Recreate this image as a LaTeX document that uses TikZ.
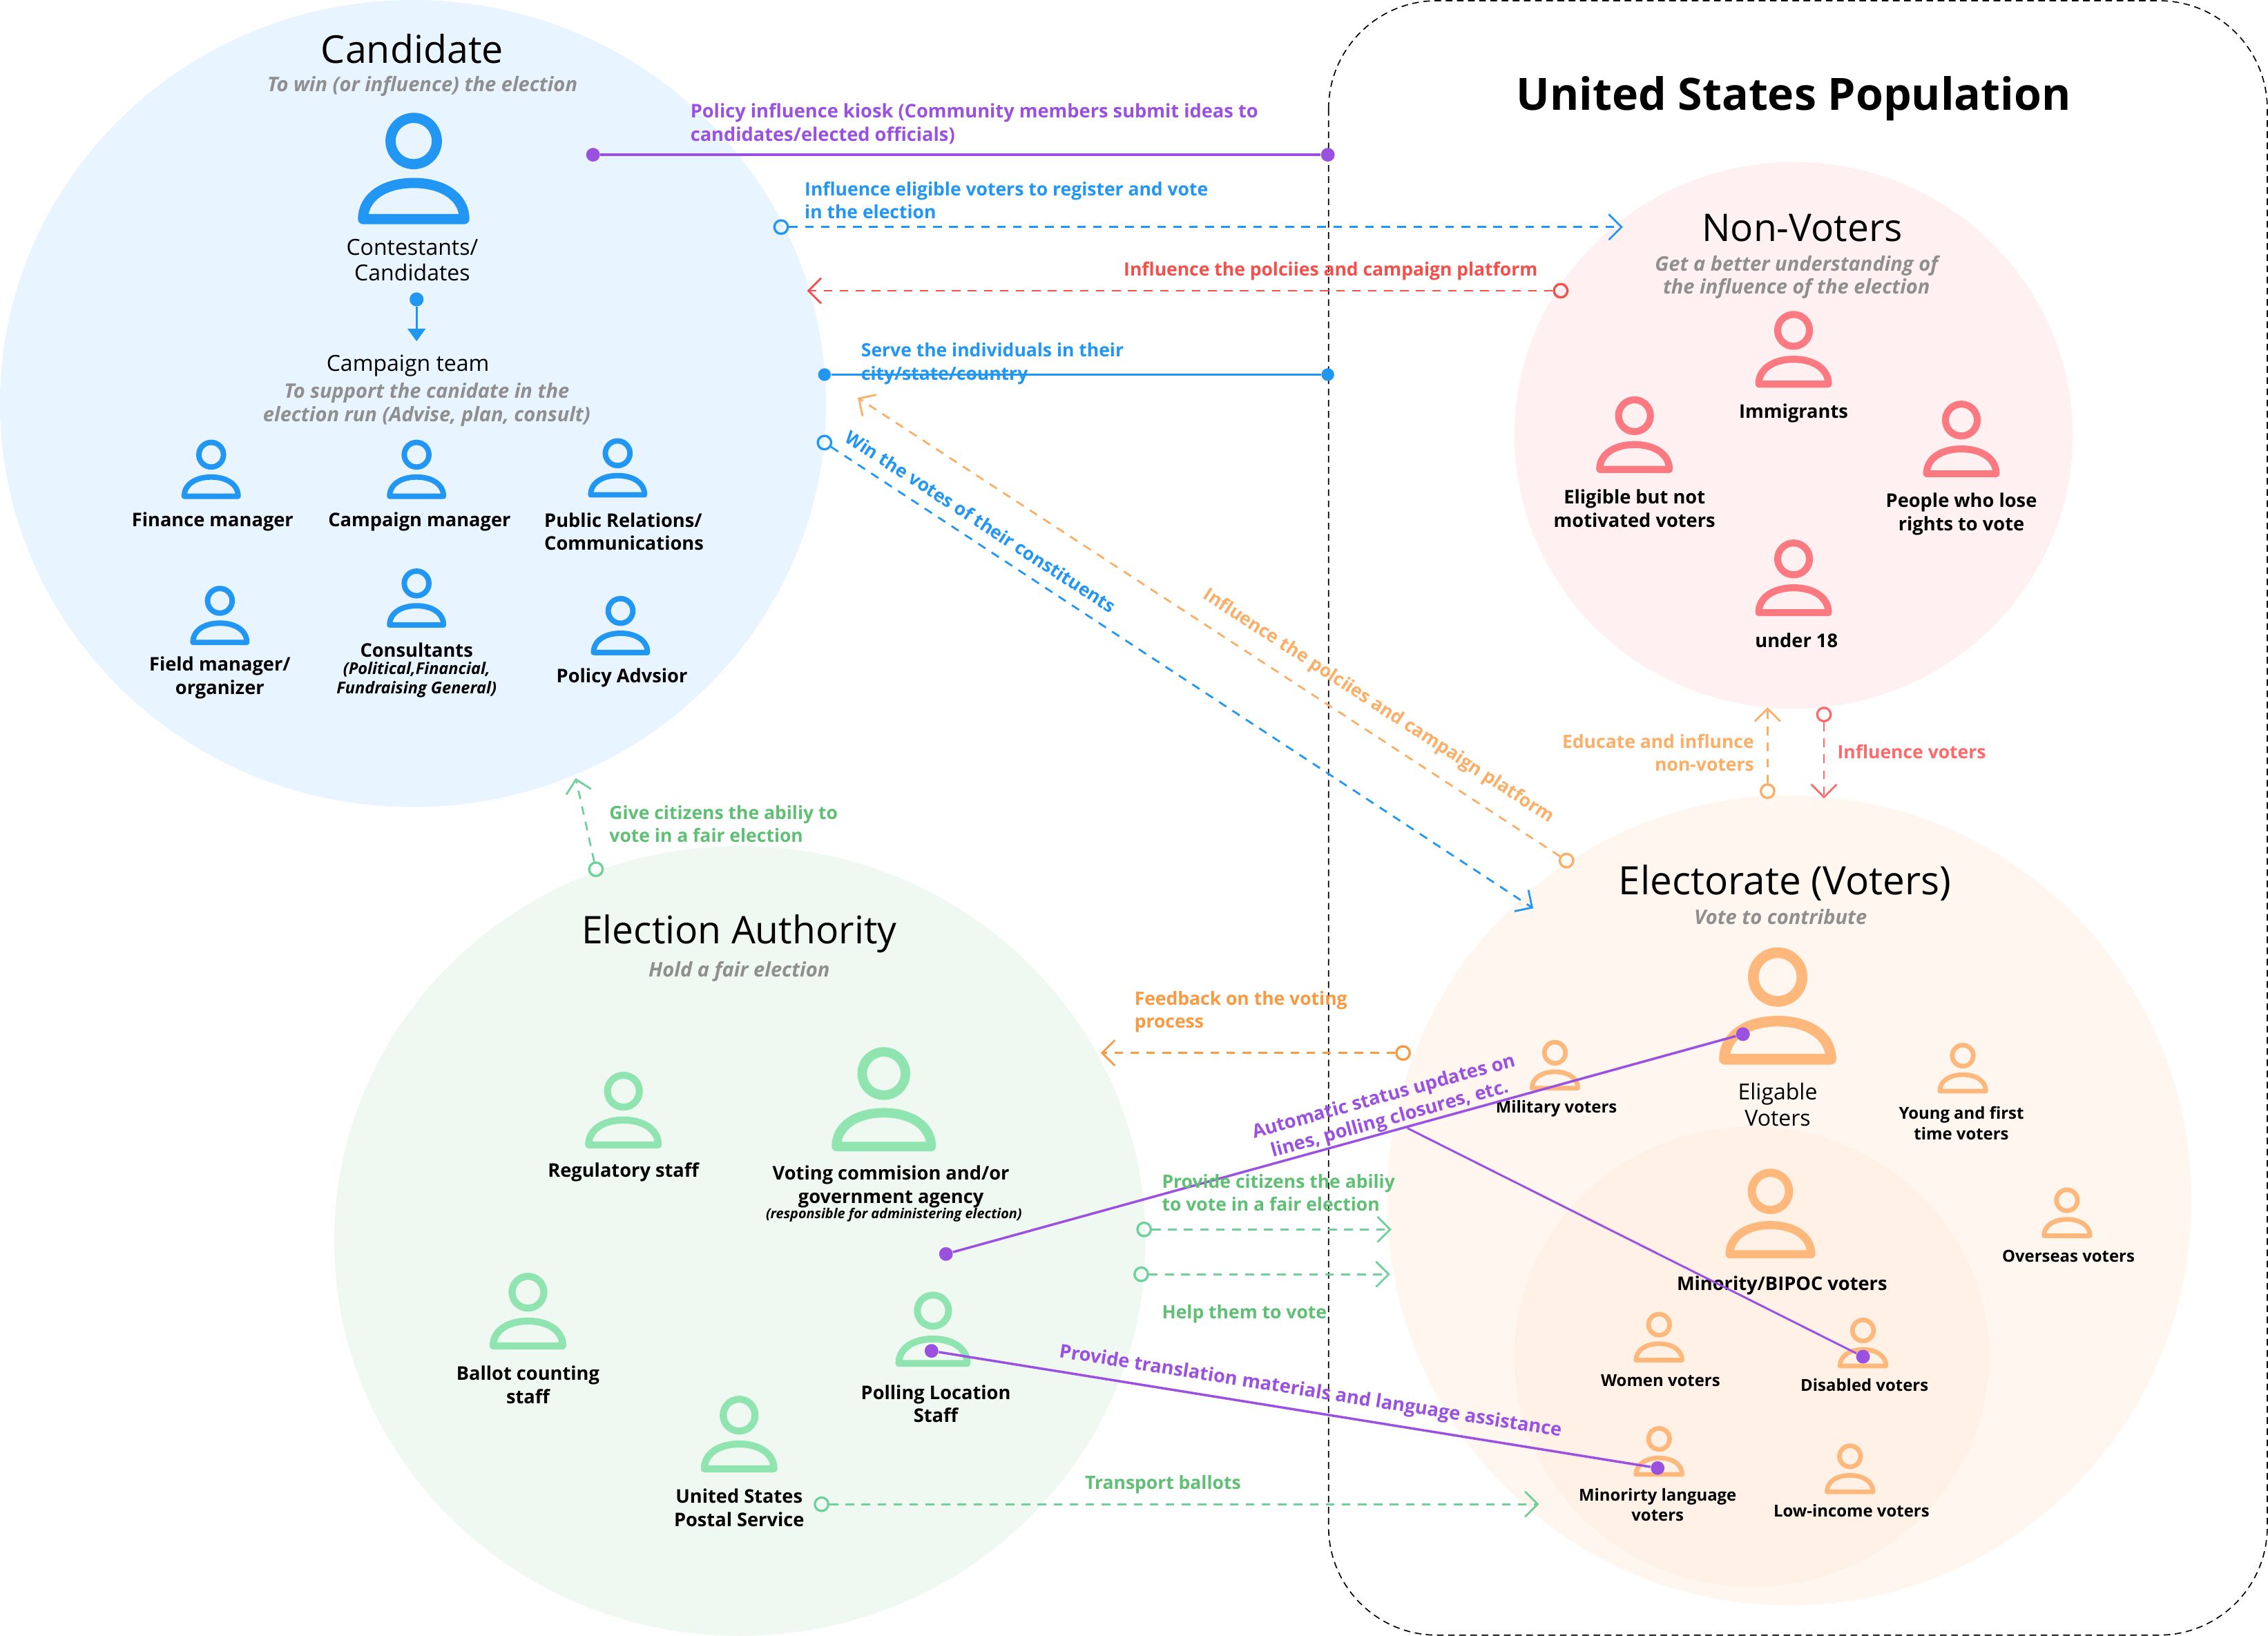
\documentclass[tikz,border=0pt]{standalone}
\usepackage{fontspec}
\setmainfont{Open Sans}
\usetikzlibrary{arrows.meta}
\definecolor{cblue}{HTML}{2196F3}
\definecolor{cbluebg}{HTML}{E8F4FF}
\definecolor{cgreen}{HTML}{90E4B0}
\definecolor{cgreentxt}{HTML}{5FBF74}
\definecolor{cgreenline}{HTML}{6FD09A}
\definecolor{cgreenbg}{HTML}{F0F8F2}
\definecolor{corange}{HTML}{FFB87C}
\definecolor{corangetxt}{HTML}{F79A42}
\definecolor{corangelt}{HTML}{FBAE66}
\definecolor{corangebg}{HTML}{FFF6F0}
\definecolor{corangein}{HTML}{FFF1E6}
\definecolor{cred}{HTML}{FB7A82}
\definecolor{credtxt}{HTML}{F4504B}
\definecolor{credlt}{HTML}{FB6B6B}
\definecolor{credbg}{HTML}{FFF1F1}
\definecolor{cpurple}{HTML}{9B51E0}
\definecolor{cgrey}{HTML}{8F8F8F}
\newcommand{\titlefont}{\fontsize{15}{17}\selectfont}
\newcommand{\subfont}{\fontsize{8.7}{10.2}\selectfont}
\newcommand{\lblfont}{\fontsize{7.4}{9.1}\selectfont\bfseries}
\newcommand{\linkfont}{\fontsize{7.2}{9.1}\selectfont\bfseries}
\newcommand{\smallfont}{\fontsize{6.5}{8}\selectfont\bfseries}
\newcommand{\tinyfont}{\fontsize{6.4}{7.4}\selectfont\bfseries\itshape}
\newcommand{\person}[4]{%
  \begin{scope}[shift={(#1,#2)}, scale=#3/77]
    \draw[#4, line width=#3/77*4pt, line join=round] (0,19.5) circle (16)
      (-35,73.5) .. controls (-35,58) and (-20,48.5) .. (0,48.5) .. controls (20,48.5) and (35,58) .. (35,73.5) -- cycle;
  \end{scope}}
\tikzset{
  lbl/.style={font=\lblfont, align=center, inner sep=0pt, yshift=-0.3pt},
  small/.style={lbl, font=\smallfont},
  head/.style={font=\titlefont, align=center, inner sep=0pt, yshift=-0.3pt},
  sublbl/.style={font=\subfont, align=center, inner sep=0pt, yshift=-0.4pt},
  goal/.style={font=\fontsize{7.9}{9.1}\selectfont\bfseries\itshape, text=cgrey, align=center, inner sep=0pt, yshift=-0.4pt},
  linklbl/.style={font=\linkfont, align=center, inner sep=0pt, yshift=-0.3pt},
  link/.style={linklbl, align=left, anchor=west},
  ring/.style={circle, draw, fill=none, line width=0.9pt, minimum size=5.3pt, inner sep=0pt},
  dot/.style={circle, fill, minimum size=5.4pt, inner sep=0pt},
  flow/.style={line width=0.75pt, dash pattern=on 3.4pt off 2.9pt, -{Straight Barb[length=5pt,width=10pt]}},
  solid link/.style={line width=0.95pt}
}
\begin{document}
\begin{tikzpicture}[x=0.02cm, y=-0.02cm]
  \useasboundingbox (0,0) rectangle (1568,1131);

  \fill[cbluebg] (285.5,279) ellipse (285.5 and 279);
  \fill[cgreenbg] (511.5,858) ellipse (280.5 and 273);
  \fill[credbg] (1240,301) ellipse (193 and 189);
  \fill[corangebg] (1237,830) ellipse (278 and 280);
  \fill[corangein] (1211,938) ellipse (164 and 159);
  \draw[line width=0.45pt, dash pattern=on 2.6pt off 1.8pt, rounded corners=1.5cm] (918.5,0.5) rectangle (1567.5,1130.5);

  \foreach \x/\y/\s in {286/78/77, 146/304/41, 288/304/41, 427/303/41, 152/405/41, 288/393/41, 429/412/41}
    \person{\x}{\y}{\s}{cblue};
  \foreach \x/\y/\s in {611/724/72, 431/741/53, 365/880/53, 645/893/52, 511/965/53}
    \person{\x}{\y}{\s}{cgreen};
  \foreach \x/\y/\s in {1240/215/53, 1130/274/53, 1356/277/53, 1240/373/53}
    \person{\x}{\y}{\s}{cred};
  \foreach \x/\y/\s in {1229/655/81, 1075/719/35, 1357/721/35, 1429/821/35, 1224/808/62, 1147/907/35, 1288/911/35, 1147/986/35, 1279/998/35}
    \person{\x}{\y}{\s}{corange};

  \node[head, font=\fontsize{15.1}{17}\selectfont] (candidate) at (285,33) {Candidate};
  \node[goal] (candidategoal) at (292,59) {To win (or influence) the election};
  \node[sublbl] (contestants) at (285,179) {Contestants/\\Candidates};
  \node[sublbl] (team) at (282,252) {Campaign team};
  \node[goal] (teamgoal) at (295,279) {To support the canidate in the\\election run (Advise, plan, consult)};
  \node[lbl] (finance) at (147,360) {Finance manager};
  \node[lbl] (campaign) at (290,360) {Campaign manager};
  \node[lbl, align=left, anchor=west] (public) at (376,367) {Public Relations/\\Communications};
  \node[lbl] (field) at (152,468) {Field manager/\\organizer};
  \node[lbl] (consultants) at (288,449) {Consultants};
  \node[font=\tinyfont, align=center, inner sep=0pt] (consultantkinds) at (288,470) {(Political,Financial,\\Fundraising General)};
  \node[lbl] (policy) at (430,468) {Policy Advsior};

  \node[font=\fontsize{17.5}{21}\selectfont\bfseries, inner sep=0pt] (population) at (1240,68) {United States Population};

  \node[head] (nonvoters) at (1246,157) {Non-Voters};
  \node[goal] (nonvotersgoal) at (1242,191) {Get a better understanding of\\the influence of the election};
  \node[lbl] (immigrants) at (1240,285) {Immigrants};
  \node[lbl] (eligible) at (1130,351) {Eligible but not\\motivated voters};
  \node[lbl] (rights) at (1356,355) {People who lose\\rights to vote};
  \node[lbl] (under) at (1242,442) {under 18};

  \node[head, font=\fontsize{15.4}{17}\selectfont] (electorate) at (1234,610) {Electorate (Voters)};
  \node[goal] (electorategoal) at (1231,633) {Vote to contribute};
  \node[sublbl] (eligable) at (1229,763) {Eligable\\Voters};
  \node[small] (military) at (1076,766) {Military voters};
  \node[small] (young) at (1356,776) {Young and first\\time voters};
  \node[small] (overseas) at (1430,868) {Overseas voters};
  \node[lbl] (minority) at (1232,888) {Minority/BIPOC voters};
  \node[small] (women) at (1148,954) {Women voters};
  \node[small] (disabled) at (1289,957) {Disabled voters};
  \node[small] (language) at (1146,1040) {Minorirty language\\voters};
  \node[small] (income) at (1280,1044) {Low-income voters};

  \node[head] (authority) at (511,645) {Election Authority};
  \node[goal] (authoritygoal) at (511,671) {Hold a fair election};
  \node[lbl] (regulatory) at (431,810) {Regulatory staff};
  \node[lbl] (commission) at (616,820) {Voting commision and/or\\government agency};
  \node[font=\fontsize{5.4}{6}\selectfont\bfseries\itshape, inner sep=0pt] (administering) at (618,840) {(responsible for administering election)};
  \node[lbl] (ballot) at (365,957) {Ballot counting\\staff};
  \node[lbl] (polling) at (647,970) {Polling Location\\Staff};
  \node[lbl] (postal) at (511,1042) {United States\\Postal Service};

  \node[dot, cpurple] (kioskA) at (410,107) {};
  \node[dot, cpurple] (kioskB) at (918,107) {};
  \draw[solid link, cpurple] (kioskA) -- (kioskB);
  \node[link, font=\lblfont, cpurple] (kiosklbl) at (477,85) {Policy influence kiosk (Community members submit ideas to\\candidates/elected officials)};

  \node[ring, cblue] (registerA) at (540,157) {};
  \coordinate (registerB) at (1122,157);
  \draw[flow, cblue] (registerA) -- (registerB);
  \node[link, cblue] (registerlbl) at (556,138) {Influence eligible voters to register and vote\\in the election};

  \node[ring, credtxt] (platformA) at (1079,201) {};
  \coordinate (platformB) at (558,201);
  \draw[flow, credtxt] (platformA) -- (platformB);
  \node[linklbl, credtxt] (platformlbl) at (920,187) {Influence the polciies and campaign platform};

  \node[dot, cblue, minimum size=5pt] (serveA) at (570,259) {};
  \node[dot, cblue, minimum size=5pt] (serveB) at (918,259) {};
  \draw[solid link, cblue] (serveA) -- (serveB);
  \node[link, cblue] (servelbl) at (595,251) {Serve the individuals in their\\city/state/country};

  \node[ring, cblue] (winA) at (570,306) {};
  \coordinate (winB) at (1060,628);
  \draw[flow, cblue] (winA) -- (winB);
  \node[linklbl, cblue, rotate=-33] (winlbl) at (678,360) {Win the votes of their constituents};

  \node[ring, corangelt] (policyA) at (1083,595) {};
  \coordinate (policyB) at (593,275);
  \draw[flow, corangelt] (policyA) -- (policyB);
  \node[linklbl, corangelt, rotate=-33] (policylbl) at (953,488) {Influence the polciies and campaign platform};

  \node[ring, corangelt] (educateA) at (1222,547) {};
  \coordinate (educateB) at (1222,489);
  \draw[flow, corangelt] (educateA) -- (educateB);
  \node[linklbl, corangelt, align=right, anchor=east] (educatelbl) at (1213,520) {Educate and influnce\\non-voters};

  \node[ring, credlt] (votersA) at (1261,494) {};
  \coordinate (votersB) at (1261,552);
  \draw[flow, credlt] (votersA) -- (votersB);
  \node[link, credlt] (voterslbl) at (1270,519) {Influence voters};

  \node[ring, cgreenline] (fairA) at (412,601) {};
  \coordinate (fairB) at (398,538);
  \draw[flow, cgreenline] (fairA) -- (fairB);
  \node[link, cgreentxt] (fairlbl) at (421,569) {Give citizens the abiliy to\\vote in a fair election};

  \node[ring, corangetxt] (feedbackA) at (970,728) {};
  \coordinate (feedbackB) at (761,728);
  \draw[flow, corangetxt] (feedbackA) -- (feedbackB);
  \node[link, corangetxt] (feedbacklbl) at (784,699) {Feedback on the voting\\process};

  \node[dot, cpurple] (statusA) at (654,867) {};
  \node[dot, cpurple] (statusB) at (1205,715) {};
  \coordinate (statusfork) at (973,780);
  \node[dot, cpurple] (statusC) at (1288,938) {};
  \draw[solid link, cpurple] (statusA) -- (statusB);
  \draw[line width=0.8pt, cpurple] (statusfork) -- (statusC);
  \node[lbl, cpurple, rotate=15.4] (statuslbl) at (959,766) {Automatic status updates on\\lines, polling closures, etc.};

  \node[ring, cgreenline] (provideA) at (791,850) {};
  \coordinate (provideB) at (962,850);
  \draw[flow, cgreenline] (provideA) -- (provideB);
  \node[link, cgreentxt] (providelbl) at (803,824) {Provide citizens the abiliy\\to vote in a fair election};

  \node[ring, cgreenline] (helpA) at (789,881) {};
  \coordinate (helpB) at (961,881);
  \draw[flow, cgreenline] (helpA) -- (helpB);
  \node[link, cgreentxt] (helplbl) at (803,908) {Help them to vote};

  \node[dot, cpurple] (translateA) at (644,934) {};
  \node[dot, cpurple] (translateB) at (1146,1015) {};
  \draw[solid link, cpurple] (translateA) -- (translateB);
  \node[lbl, cpurple, rotate=-9] (translatelbl) at (906,962) {Provide translation materials and language assistance};

  \node[ring, cgreenline] (ballotsA) at (568,1040) {};
  \coordinate (ballotsB) at (1064,1040);
  \draw[flow, cgreenline] (ballotsA) -- (ballotsB);
  \node[linklbl, cgreentxt] (ballotslbl) at (804,1026) {Transport ballots};

  \node[dot, cblue, minimum size=5.5pt] (teamA) at (288,207) {};
  \coordinate (teamB) at (288,236);
  \draw[line width=0.8pt, cblue, -{Triangle[length=5pt,width=7pt]}] (teamA) -- (teamB);
\end{tikzpicture}
\end{document}
